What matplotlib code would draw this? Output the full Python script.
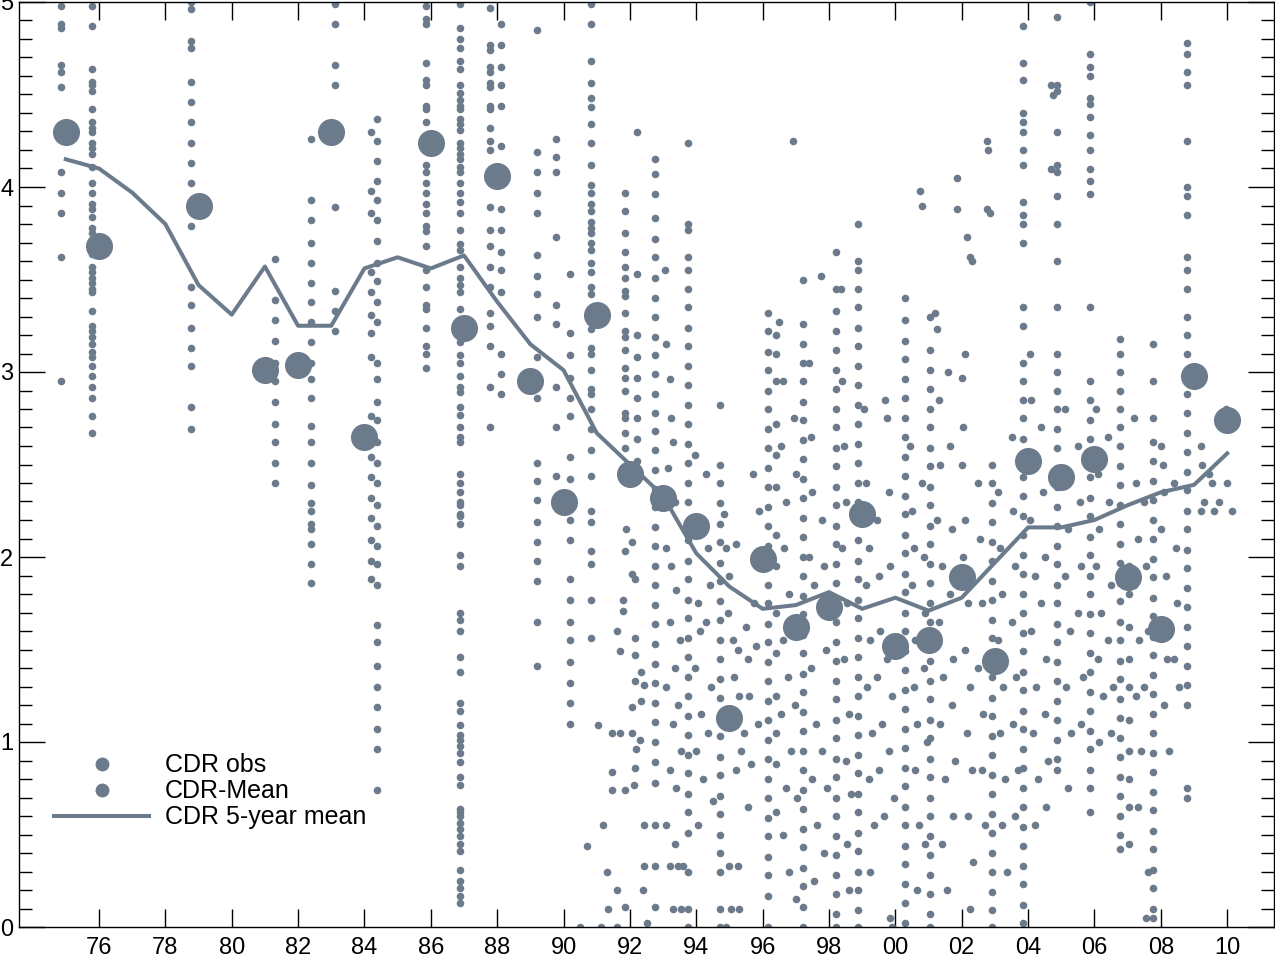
import matplotlib
matplotlib.use('Agg')
import matplotlib.pyplot as plt
from matplotlib.lines import Line2D
from matplotlib.ticker import MultipleLocator

plt.rcParams['font.family'] = ['Liberation Sans', 'DejaVu Sans']

COL = '#6C7B8B'

# observation columns: one date per column and the CDR values in it
c1975a = [4.98, 4.88, 4.86, 4.66, 4.62, 4.54, 4.08, 3.97, 3.86, 3.62, 2.95]
c1975b = [4.98, 4.87, 4.64, 4.57, 4.55, 4.52, 4.42, 4.35, 4.32, 4.30, 4.24, 4.21,
          4.18, 4.11, 4.02, 3.97, 3.91, 3.88, 3.84, 3.78, 3.75, 3.64, 3.57, 3.54,
          3.51, 3.48, 3.45, 3.43, 3.33, 3.25, 3.22, 3.19, 3.15, 3.11, 3.08, 3.03,
          2.98, 2.92, 2.86, 2.76, 2.67]
c1978 = [5.0, 4.96, 4.79, 4.75, 4.57, 4.46, 4.35, 4.24, 4.13, 4.02, 3.90, 3.79,
         3.46, 3.36, 3.24, 3.13, 3.03, 2.81, 2.69]
c1981 = [3.61, 3.39, 3.28, 3.17, 3.05, 2.95, 2.84, 2.72, 2.62, 2.51, 2.40]
c1982 = [4.26, 3.93, 3.82, 3.70, 3.59, 3.48, 3.38, 3.27, 3.16, 3.05, 2.96, 2.86,
         2.71, 2.62, 2.51, 2.39, 2.29, 2.25, 2.18, 2.15, 2.07, 1.96, 1.86]
c1983 = [4.99, 4.88, 4.66, 4.55, 3.89, 3.44, 3.33, 3.22]
c1984a = [4.30, 3.98, 3.86, 3.54, 3.43, 3.31, 3.21, 3.08, 2.76, 2.63, 2.54, 2.43,
          2.32, 2.21, 2.09, 1.98, 1.88]
c1984b = [4.37, 4.25, 4.14, 4.03, 3.93, 3.82, 3.71, 3.59, 3.49, 3.38, 3.27, 3.05,
          2.96, 2.84, 2.74, 2.62, 2.51, 2.40, 2.28, 2.17, 2.06, 1.96, 1.85, 1.63,
          1.54, 1.41, 1.30, 1.19, 1.07, 0.96, 0.74]
c1985 = [4.98, 4.91, 4.88, 4.67, 4.58, 4.55, 4.44, 4.42, 4.35, 4.25, 4.20, 4.12,
         4.08, 4.02, 3.97, 3.91, 3.86, 3.79, 3.76, 3.68, 3.55, 3.46, 3.36, 3.34,
         3.24, 3.14, 3.10, 3.02]
c1986 = [4.99, 4.86, 4.80, 4.75, 4.68, 4.64, 4.55, 4.51, 4.47, 4.44, 4.42, 4.37,
         4.34, 4.31, 4.24, 4.21, 4.18, 4.15, 4.11, 4.08, 4.02, 3.97, 3.92, 3.86,
         3.77, 3.69, 3.66, 3.57, 3.51, 3.47, 3.43, 3.34, 3.19, 3.16, 3.09, 3.05,
         2.98, 2.92, 2.89, 2.81, 2.77, 2.70, 2.65, 2.62, 2.45, 2.40, 2.35, 2.30,
         2.28, 2.23, 2.22, 2.18, 2.01, 1.95, 1.70, 1.66, 1.60, 1.46, 1.38, 1.21,
         1.17, 1.09, 1.04, 1.01, 0.98, 0.94, 0.89, 0.81, 0.77, 0.64, 0.62, 0.60,
         0.56, 0.53, 0.49, 0.45, 0.41, 0.31, 0.25, 0.21, 0.17, 0.13]
c1987 = [4.97, 4.77, 4.74, 4.65, 4.62, 4.56, 4.54, 4.44, 4.42, 4.32, 4.25, 4.20,
         4.04, 3.89, 3.77, 3.68, 3.57, 3.46, 3.32, 3.25, 3.14, 2.92, 2.70]
c1988 = [4.88, 4.77, 4.65, 4.55, 4.44, 4.22, 3.88, 3.77, 3.65, 3.55, 3.43, 3.10,
         2.99, 2.88]
c1989a = [4.85, 4.19, 4.08, 3.97, 3.86, 3.63, 3.52, 3.42, 3.30, 3.08, 2.86, 2.51,
          2.41, 2.31, 2.19, 2.08, 1.98, 1.87, 1.65, 1.41]
c1989b = [4.26, 4.16, 4.08, 3.73, 3.36, 3.26, 2.92, 2.70, 2.44]
c1990a = [3.53, 3.21, 3.09, 2.97, 2.86, 2.76, 2.54, 2.42, 2.20, 2.09, 1.88, 1.77,
          1.65, 1.55, 1.43, 1.32, 1.21, 1.10]
c1990b = [4.99, 4.88, 4.68, 4.56, 4.48, 4.43, 4.34, 4.24, 4.12, 4.01, 3.97, 3.91,
          3.87, 3.81, 3.78, 3.75, 3.70, 3.66, 3.59, 3.54, 3.46, 3.42, 3.33, 3.28,
          3.23, 3.13, 3.10, 3.01, 2.91, 2.88, 2.80, 2.69, 2.58, 2.44, 2.25, 2.19,
          2.03, 1.96, 1.77, 1.56]
c1991 = [3.97, 3.87, 3.75, 3.65, 3.57, 3.51, 3.44, 3.41, 3.32, 3.22, 3.19, 3.12,
         3.02, 2.97, 2.90, 2.78, 2.75, 2.67, 2.59]
c1992 = [4.30, 3.53, 3.20, 3.08, 2.97, 2.86, 2.75, 2.64, 2.52]
c1993a = [4.15, 4.07, 3.96, 3.83, 3.72, 3.62, 3.51, 3.40, 3.30, 3.19, 3.09, 2.99,
          2.88, 2.78, 2.68, 2.58, 2.47, 2.37, 2.27, 2.16, 2.06, 1.95, 1.85, 1.74,
          1.64, 1.53, 1.42, 1.32, 1.21, 1.11, 1.00, 0.89, 0.78, 0.55, 0.33, 0.11]
c1993b = [4.24, 3.80, 3.77, 3.62, 3.55, 3.45, 3.35, 3.24, 3.14, 3.03, 2.93, 2.82,
          2.72, 2.61, 2.51, 2.40, 2.30, 2.19, 2.09, 1.98, 1.88, 1.77, 1.67, 1.56,
          1.46, 1.35, 1.25, 1.14, 1.04, 0.93, 0.83, 0.72, 0.62, 0.51, 0.30, 0.10,
          0.0]
c1994 = [2.82, 2.50, 2.40, 2.29, 2.18, 2.08, 1.97, 1.87, 1.76, 1.66, 1.55, 1.45,
         1.34, 1.24, 1.13, 1.03, 0.92, 0.82, 0.71, 0.61, 0.50, 0.40, 0.30, 0.10,
         0.0]
c1996a = [3.32, 3.22, 3.11, 3.01, 2.90, 2.80, 2.69, 2.59, 2.48, 2.38, 2.27, 2.17,
          2.06, 1.96, 1.85, 1.75, 1.64, 1.54, 1.43, 1.33, 1.22, 1.12, 1.01, 0.91,
          0.80, 0.70, 0.59, 0.49, 0.38, 0.28, 0.17, 0.0]
c1996b = [3.20, 3.10, 2.95, 2.72, 2.55, 2.38, 2.12, 1.95, 1.70, 1.48, 1.25, 1.05,
          0.88, 0.62]
c1997 = [3.50, 3.26, 3.15, 3.05, 2.95, 2.84, 2.74, 2.63, 2.53, 2.42, 2.32, 2.21,
         2.11, 2.00, 1.90, 1.79, 1.69, 1.58, 1.48, 1.37, 1.27, 1.16, 1.06, 0.95,
         0.85, 0.74, 0.64, 0.53, 0.43, 0.32, 0.22, 0.11, 0.0]
c1998 = [3.65, 3.45, 3.33, 3.22, 3.12, 3.01, 2.91, 2.80, 2.70, 2.59, 2.49, 2.38,
         2.28, 2.17, 2.07, 1.96, 1.86, 1.75, 1.65, 1.54, 1.44, 1.33, 1.23, 1.12,
         1.02, 0.91, 0.81, 0.70, 0.60, 0.49, 0.39, 0.28, 0.18, 0.07, 0.0]
c1999 = [3.80, 3.60, 3.55, 3.45, 3.35, 3.24, 3.14, 3.03, 2.93, 2.82, 2.72, 2.61,
         2.51, 2.40, 2.30, 2.19, 2.09, 1.98, 1.88, 1.77, 1.67, 1.56, 1.46, 1.35,
         1.25, 1.14, 1.04, 0.93, 0.83, 0.72, 0.62, 0.51, 0.41, 0.30, 0.20, 0.09,
         0.0]
c2000 = [3.40, 3.28, 3.17, 3.07, 2.96, 2.86, 2.75, 2.65, 2.54, 2.44, 2.33, 2.23,
         2.12, 2.02, 1.91, 1.81, 1.70, 1.60, 1.49, 1.39, 1.28, 1.18, 1.07, 0.97,
         0.86, 0.76, 0.65, 0.55, 0.44, 0.34, 0.23, 0.13, 0.02]
c2001 = [3.30, 3.12, 3.01, 2.91, 2.80, 2.70, 2.59, 2.49, 2.38, 2.28, 2.17, 2.07,
         1.96, 1.86, 1.75, 1.65, 1.54, 1.44, 1.33, 1.23, 1.12, 1.02, 0.91, 0.81,
         0.70, 0.60, 0.49, 0.39, 0.28, 0.18, 0.07, 0.0]
c2003 = [2.50, 2.40, 2.29, 2.19, 2.08, 1.98, 1.87, 1.77, 1.66, 1.56, 1.45, 1.35,
         1.24, 1.14, 1.03, 0.93, 0.82, 0.72, 0.61, 0.51, 0.40, 0.30, 0.19, 0.09,
         0.0]
c2004 = [4.87, 4.67, 4.58, 4.40, 4.35, 4.30, 4.20, 4.12, 3.92, 3.85, 3.80, 3.70,
         3.35, 3.25, 3.05, 2.95, 2.85, 2.75, 2.64, 2.54, 2.43, 2.33, 2.22, 2.12,
         2.01, 1.91, 1.80, 1.70, 1.59, 1.49, 1.38, 1.28, 1.17, 1.07, 0.96, 0.86,
         0.75, 0.65, 0.54, 0.44, 0.33, 0.23, 0.12, 0.02]
c2005 = [4.92, 4.55, 4.52, 4.30, 4.12, 4.08, 3.95, 3.80, 3.60, 3.35, 3.10, 3.00,
         2.90, 2.80, 2.69, 2.59, 2.48, 2.38, 2.27, 2.17, 2.06, 1.96, 1.85, 1.75,
         1.64, 1.54, 1.43, 1.33, 1.22, 1.12, 1.01, 0.91, 0.85]
c2006 = [5.00, 4.72, 4.65, 4.60, 4.48, 4.45, 4.38, 4.28, 4.20, 4.10, 4.03, 3.96,
         3.35, 2.95, 2.85, 2.74, 2.64, 2.53, 2.43, 2.32, 2.22, 2.11, 2.01, 1.90,
         1.80, 1.69, 1.59, 1.48, 1.38, 1.27, 1.17, 1.06, 0.96, 0.85, 0.75, 0.62]
c2007a = [3.18, 3.10, 3.00, 2.90, 2.80, 2.70, 2.60, 2.49, 2.39, 2.28, 2.18, 2.07,
          1.97, 1.86, 1.76, 1.65, 1.55, 1.44, 1.34, 1.23, 1.13, 1.02, 0.92, 0.81,
          0.71, 0.60, 0.50, 0.42]
c2007b = [1.95, 1.80, 1.62, 1.45, 1.30, 1.12, 0.95, 0.80, 0.65, 0.45]
c2008 = [3.15, 2.95, 2.75, 2.62, 2.52, 2.41, 2.31, 2.20, 2.10, 1.99, 1.89, 1.78,
         1.68, 1.57, 1.47, 1.36, 1.26, 1.15, 1.05, 0.94, 0.84, 0.73, 0.63, 0.52,
         0.42, 0.31, 0.21, 0.10, 0.05]
c2009 = [4.78, 4.72, 4.62, 4.55, 4.25, 4.00, 3.95, 3.85, 3.62, 3.55, 3.45, 3.30,
         3.20, 3.10, 2.98, 2.88, 2.78, 2.67, 2.57, 2.46, 2.36, 2.25, 2.15, 2.04,
         1.94, 1.83, 1.73, 1.62, 1.52, 1.41, 1.31, 1.20, 0.75, 0.70]

col_dates = [1974.87, 1975.79, 1978.77, 1981.30, 1982.38, 1983.12, 1984.20,
             1984.37, 1985.85, 1986.88, 1987.78, 1988.12, 1989.20, 1989.77,
             1990.20, 1990.82, 1991.85, 1992.21, 1992.76, 1993.75, 1994.72,
             1996.17, 1996.40, 1997.22, 1998.20, 1998.88, 2000.30, 2001.05,
             2002.92, 2003.85, 2004.87, 2005.87, 2006.77, 2007.05, 2007.77,
             2008.79]
col_values = [c1975a, c1975b, c1978, c1981, c1982, c1983, c1984a, c1984b, c1985,
              c1986, c1987, c1988, c1989a, c1989b, c1990a, c1990b, c1991, c1992,
              c1993a, c1993b, c1994, c1996a, c1996b, c1997, c1998, c1999, c2000,
              c2001, c2003, c2004, c2005, c2006, c2007a, c2007b, c2008, c2009]

# single scattered observations, grouped by period
s91_x = [1991.05, 1991.47, 1991.71, 1992.07, 1991.47, 1991.47, 1991.20, 1990.70,
         1991.60, 1991.85, 1991.89, 1992.07, 1992.07, 1991.86, 1992.16, 1991.80,
         1991.80, 1991.62, 1992.16, 1991.70, 1992.16, 1992.34, 1992.16, 1992.43,
         1992.34, 1992.07, 1992.31, 1992.19, 1992.16, 1992.13, 1991.86, 1992.43,
         1992.43, 1990.50, 1991.13, 1991.60, 1991.30, 1991.35, 1992.40, 1992.50]
s91_y = [1.09, 1.05, 1.05, 1.05, 0.84, 0.74, 0.55, 0.44, 0.20, 0.11, 2.15,
         2.08, 1.91, 2.03, 1.88, 1.77, 1.71, 1.60, 1.56, 1.49, 1.47, 1.38,
         1.33, 1.31, 1.22, 1.19, 1.01, 0.96, 0.86, 0.77, 0.74, 0.55, 0.33,
         0.0, 0.0, 0.0, 0.30, 0.10, 0.20, 0.02]
s93_x = [1993.05, 1993.10, 1993.20, 1993.25, 1993.30, 1993.15, 1993.35, 1993.10,
         1993.25, 1993.40, 1993.20, 1993.50, 1993.35, 1993.10, 1993.45, 1993.30,
         1993.55, 1993.20, 1993.40, 1993.10, 1993.35, 1993.20, 1993.45, 1993.60,
         1993.30, 1993.55, 1993.95, 1994.00, 1994.05, 1994.10, 1993.95, 1994.15,
         1994.00, 1994.20, 1994.05, 1994.30, 1994.35, 1994.40, 1994.30, 1994.45,
         1994.35, 1994.50]
s93_y = [3.55, 3.15, 2.96, 2.75, 2.62, 2.48, 2.30, 2.05, 1.95, 1.82, 1.65, 1.55,
         1.40, 1.30, 1.20, 1.10, 0.95, 0.85, 0.75, 0.55, 0.45, 0.33, 0.33, 0.33,
         0.10, 0.10, 2.55, 2.20, 1.75, 1.60, 1.40, 1.15, 0.95, 0.80, 0.55, 2.45,
         2.05, 1.85, 1.65, 1.30, 1.05, 0.68]
s95_x = [1994.85, 1994.90, 1995.00, 1994.95, 1995.10, 1995.20, 1995.25, 1995.15,
         1995.30, 1995.05, 1995.35, 1995.20, 1995.50, 1995.55, 1995.60, 1995.45,
         1995.65, 1995.55, 1995.70, 1995.75, 1995.80, 1995.00, 1995.25, 1995.05,
         1995.30, 1994.90, 1995.90, 1995.85]
s95_y = [2.23, 2.05, 1.90, 1.70, 1.55, 2.07, 1.50, 1.35, 1.25, 1.08, 0.95, 0.85,
         1.62, 1.45, 1.25, 1.05, 0.88, 0.65, 2.45, 1.75, 1.52, 0.33, 0.33, 0.10,
         0.10, 0.0, 2.25, 1.10]
s97_x = [1996.50, 1996.60, 1996.55, 1996.70, 1996.65, 1996.80, 1996.60, 1996.75,
         1996.55, 1996.85, 1996.70, 1996.60, 1996.80, 1996.92, 1996.95, 1997.00,
         1996.98, 1997.05, 1997.00, 1997.40, 1997.45, 1997.50, 1997.40, 1997.55,
         1997.45, 1997.60, 1997.50, 1997.65, 1997.55, 1997.75, 1997.80, 1997.85,
         1997.90, 1997.80, 1997.95, 1997.85]
s97_y = [3.27, 2.95, 2.60, 2.30, 2.05, 1.80, 1.55, 1.35, 1.15, 0.95, 0.75, 0.50,
         0.30, 4.25, 2.75, 2.45, 1.20, 0.70, 0.15, 3.05, 2.65, 2.35, 2.00, 1.85,
         1.40, 1.10, 0.80, 0.55, 0.25, 3.52, 2.20, 1.95, 1.50, 0.95, 0.75, 0.40]
s99_x = [1998.35, 1998.40, 1998.45, 1998.50, 1998.40, 1998.55, 1998.45, 1998.60,
         1998.50, 1998.65, 1998.55, 1998.60, 1999.05, 1999.10, 1999.20, 1999.10,
         1999.25, 1999.15, 1999.30, 1999.20, 1999.35, 1999.25, 1999.45, 1999.50,
         1999.55, 1999.45, 1999.60, 1999.50, 1999.65, 1999.70, 1999.75, 1999.80,
         1999.85, 1999.75, 1999.90, 1999.80, 1999.95, 1999.85, 1999.90]
s99_y = [3.45, 2.95, 2.60, 2.30, 2.05, 1.75, 1.45, 1.15, 0.90, 0.72, 0.45, 0.20,
         2.80, 2.40, 2.05, 1.85, 1.55, 1.30, 1.05, 0.80, 0.55, 0.30, 2.20, 1.90,
         1.60, 1.35, 1.10, 0.85, 0.60, 2.85, 2.75, 2.35, 1.95, 1.45, 1.25, 0.95,
         0.70, 0.05, 0.0]
s01_x = [2000.45, 2000.50, 2000.55, 2000.50, 2000.60, 2000.55, 2000.65, 2000.60,
         2000.70, 2000.65, 2000.75, 2000.80, 2000.80, 2000.85, 2000.90, 2000.85,
         2000.95, 2000.90, 2001.20, 2001.25, 2001.30, 2001.35, 2001.25, 2001.40,
         2001.30, 2001.45, 2001.35, 2001.50, 2001.40, 2001.55, 2001.60, 2001.65,
         2001.70, 2001.65, 2001.75, 2001.70, 2001.80, 2001.75]
s01_y = [2.60, 2.25, 2.05, 1.85, 1.55, 1.30, 1.10, 0.85, 0.55, 0.20, 3.98, 3.90,
         2.40, 2.00, 1.70, 1.40, 1.00, 0.45, 3.32, 3.23, 2.85, 2.50, 2.20, 1.95,
         1.65, 1.35, 1.10, 0.80, 0.45, 0.20, 3.00, 2.60, 2.15, 1.80, 1.45, 1.20,
         0.90, 0.60]
s03_x = [2001.85, 2001.85, 2002.10, 2002.00, 2002.05, 2002.15, 2002.25, 2002.30,
         2002.00, 2002.10, 2002.05, 2002.20, 2002.10, 2002.25, 2002.15, 2002.30,
         2002.20, 2002.35, 2002.25, 2002.50, 2002.55, 2002.60, 2002.50, 2002.65,
         2002.60, 2002.70, 2002.75, 2002.80, 2002.75, 2002.85, 2003.10, 2003.15,
         2003.20, 2003.10, 2003.25, 2003.15, 2003.30, 2003.20, 2003.35, 2003.50,
         2003.55, 2003.60, 2003.50, 2003.65, 2003.55, 2003.70, 2003.60]
s03_y = [4.05, 3.88, 3.10, 2.97, 2.70, 3.73, 3.62, 3.60, 2.50, 2.20, 2.00, 1.75,
         1.50, 1.30, 1.05, 0.85, 0.60, 0.35, 0.10, 2.40, 2.10, 1.75, 1.40, 1.15,
         0.85, 0.55, 4.25, 4.20, 3.88, 3.86, 2.35, 2.05, 1.80, 1.55, 1.30, 1.05,
         0.80, 0.55, 0.30, 2.65, 2.25, 1.95, 1.65, 1.35, 1.10, 0.85, 0.60]
s05_x = [2004.05, 2004.10, 2004.15, 2004.05, 2004.20, 2004.10, 2004.25, 2004.15,
         2004.30, 2004.20, 2004.40, 2004.45, 2004.50, 2004.40, 2004.55, 2004.50,
         2004.60, 2004.55, 2004.70, 2004.75, 2004.70, 2005.10, 2005.15, 2005.20,
         2005.10, 2005.25, 2005.15, 2005.30, 2005.20, 2005.50, 2005.55, 2005.60,
         2005.50, 2005.65, 2005.60]
s05_y = [3.10, 2.85, 2.50, 2.20, 1.90, 1.60, 1.30, 1.05, 0.80, 0.55, 2.70, 2.35,
         2.00, 1.75, 1.45, 1.15, 0.90, 0.65, 4.55, 4.50, 4.10, 2.80, 2.45, 2.15,
         1.90, 1.60, 1.30, 1.05, 0.75, 2.60, 2.30, 1.95, 1.70, 1.35, 1.10]
s07_x = [2006.05, 2006.10, 2006.15, 2006.05, 2006.20, 2006.10, 2006.25, 2006.15,
         2006.40, 2006.45, 2006.50, 2006.40, 2006.55, 2006.50, 2007.20, 2007.25,
         2007.30, 2007.20, 2007.35, 2007.25, 2007.40, 2007.30, 2007.50, 2007.55,
         2007.60, 2007.50, 2007.60, 2007.55]
s07_y = [2.80, 2.45, 2.15, 1.95, 1.70, 1.45, 1.25, 1.00, 2.65, 2.30, 1.85, 1.55,
         1.30, 1.05, 2.75, 2.40, 2.10, 1.85, 1.55, 1.25, 0.95, 0.65, 2.30, 1.95,
         1.60, 1.30, 0.30, 0.05]
s09_x = [2008.00, 2008.05, 2008.10, 2008.00, 2008.15, 2008.05, 2008.20, 2008.10,
         2008.25, 2008.40, 2008.45, 2008.50, 2008.40, 2008.55, 2009.20, 2009.25,
         2009.30, 2009.20, 2009.45, 2009.55, 2009.60, 2009.95, 2010.00, 2010.15,
         2009.75]
s09_y = [2.60, 2.50, 2.35, 2.15, 1.90, 1.65, 1.45, 1.20, 0.95, 2.40, 2.05, 1.75,
         1.45, 1.30, 2.60, 2.50, 2.30, 2.25, 2.45, 2.40, 2.25, 2.80, 2.40, 2.25,
         2.30]

# yearly means and 5-year running mean
mean_years = [1975, 1976, 1979, 1981, 1982, 1983, 1984, 1986, 1987, 1988, 1989,
              1990, 1991, 1992, 1993, 1994, 1995, 1996, 1997, 1998, 1999, 2000,
              2001, 2002, 2003, 2004, 2005, 2006, 2007, 2008, 2009, 2010]
mean_cdr = [4.30, 3.68, 3.90, 3.01, 3.04, 4.30, 2.65, 4.24, 3.24, 4.06, 2.95,
            2.30, 3.31, 2.45, 2.32, 2.17, 1.13, 1.99, 1.62, 1.73, 2.23, 1.52,
            1.55, 1.89, 1.44, 2.52, 2.43, 2.53, 1.89, 1.61, 2.98, 2.74]

run_years = list(range(1975, 2011))
run_cdr = [4.15, 4.10, 3.97, 3.80, 3.47, 3.31, 3.57, 3.25, 3.25, 3.56, 3.62,
           3.56, 3.63, 3.38, 3.15, 3.01, 2.67, 2.50, 2.33, 2.02, 1.84, 1.72,
           1.74, 1.81, 1.72, 1.78, 1.71, 1.78, 1.97, 2.16, 2.16, 2.20, 2.28,
           2.35, 2.39, 2.56]

fig = plt.figure(figsize=(12.75, 9.59), dpi=100)
ax = fig.add_axes([19 / 1275, 32 / 959, 1255 / 1275, 925 / 959])

scat_x = s91_x + s93_x + s95_x + s97_x + s99_x + s01_x + s03_x + s05_x + s07_x + s09_x
scat_y = s91_y + s93_y + s95_y + s97_y + s99_y + s01_y + s03_y + s05_y + s07_y + s09_y
obs_x = [d for d, vals in zip(col_dates, col_values) for _ in vals] + scat_x
obs_y = [v for vals in col_values for v in vals] + scat_y
ax.scatter(obs_x, obs_y, s=30, color=COL, linewidths=0, zorder=2)
ax.plot(run_years, run_cdr, color=COL, lw=2.9, zorder=3)
ax.scatter(mean_years, mean_cdr, s=380, color=COL, linewidths=0, zorder=4)

ax.set_xlim(1973.59, 2011.41)
ax.set_ylim(0, 5)
xt = list(range(1976, 2011, 2))
ax.set_xticks(xt)
ax.set_xticklabels([f'{t % 100:02d}' for t in xt])
ax.yaxis.set_major_locator(MultipleLocator(1))
ax.yaxis.set_minor_locator(MultipleLocator(0.1))
ax.tick_params(axis='both', which='both', direction='in', colors='black',
               labelsize=17, width=1.0)
ax.tick_params(axis='x', which='major', length=13.3, top=True, pad=7)
ax.tick_params(axis='y', which='major', length=18.5, right=True, pad=4)
ax.tick_params(axis='y', which='minor', length=9.6, right=True)
for s in ax.spines.values():
    s.set_linewidth(1.0)
ylabels = ax.get_yticklabels()
ylabels[0].set_va('baseline')
ylabels[-1].set_va('top')

handles = [Line2D([], [], ls='none', marker='o', ms=10, color=COL, mew=0),
           Line2D([], [], ls='none', marker='o', ms=10, color=COL, mew=0),
           Line2D([], [], color=COL, lw=2.9)]
ax.legend(handles, ['CDR obs', 'CDR-Mean', 'CDR 5-year mean'], loc='upper left',
          bbox_to_anchor=(0.028, 0.1876), frameon=False, fontsize=18,
          handlelength=3.8, handletextpad=0.64, labelspacing=0.08,
          borderpad=0, borderaxespad=0)

fig.savefig('out.png', dpi=100)
